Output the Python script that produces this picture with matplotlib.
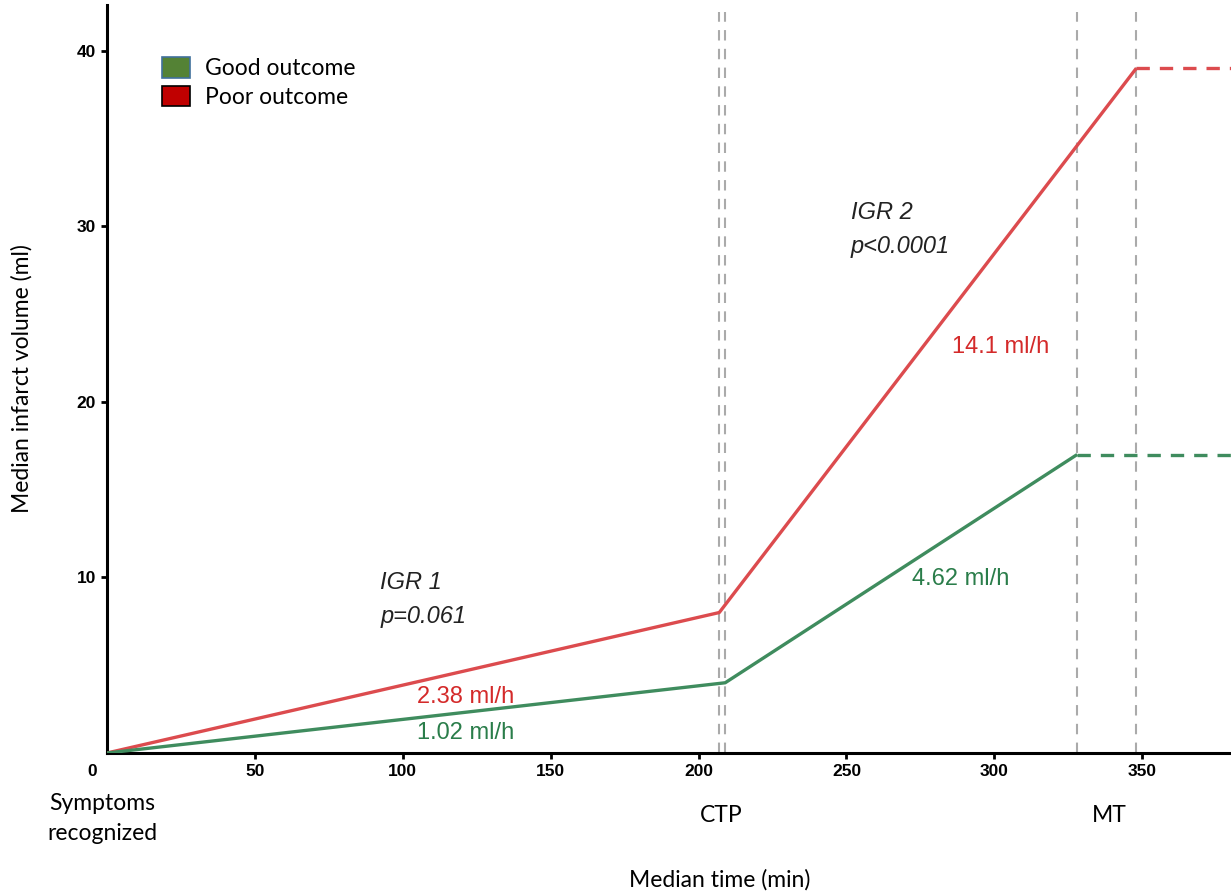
import matplotlib
matplotlib.use("Agg")
import matplotlib.pyplot as plt
from matplotlib.patches import Patch

# data
good_t = [0, 209, 328]
good_v = [0, 4, 17]
poor_t = [0, 207, 348]
poor_v = [0, 8, 39]
x_end = 380
ctp_times = [207, 209]
mt_times = [328, 348]
rates_poor = ["2.38 ml/h", "14.1 ml/h"]
rates_good = ["1.02 ml/h", "4.62 ml/h"]
xticks = [50, 100, 150, 200, 250, 300, 350]
yticks = [10, 20, 30, 40]

red = "#dc4b4e"
green = "#3f8c5e"
cal = "Lato"
ar = "Liberation Sans"

fig = plt.figure(figsize=(12.31, 8.96), dpi=100)
ax = fig.add_axes([0.0869, 0.1596, 0.9131, 0.8348])

for t in ctp_times + mt_times:
    ax.axvline(t, ymax=0.99, color="#aaaaaa", lw=1.5, ls=(0, (5, 4)), zorder=1)

ax.plot(poor_t, poor_v, color=red, lw=2.4, zorder=3, solid_capstyle="butt")
ax.plot(good_t, good_v, color=green, lw=2.4, zorder=3, solid_capstyle="butt")
ax.plot([poor_t[-1], x_end], [poor_v[-1], poor_v[-1]], color=red, lw=2.4, ls=(0, (4, 3)), zorder=3)
ax.plot([good_t[-1], x_end], [good_v[-1], good_v[-1]], color=green, lw=2.4, ls=(0, (4, 3)), zorder=3)

ax.set_xlim(0, x_end)
ax.set_ylim(0, 42.6)
ax.set_xticks(xticks)
ax.set_yticks(yticks)
ax.tick_params(labelsize=12, width=2, length=4, pad=4)
for lab in ax.get_xticklabels() + ax.get_yticklabels():
    lab.set_fontweight("bold")
    lab.set_fontfamily(ar)
    lab.set_fontsize(12.5)
for s in ["top", "right"]:
    ax.spines[s].set_visible(False)
for s in ["left", "bottom"]:
    ax.spines[s].set_linewidth(2.2)
ax.annotate("0", (-5, 0), xytext=(0, -8), textcoords="offset points", ha="center", va="top",
            fontsize=12.5, fontweight="bold", family=ar, annotation_clip=False)

# annotations
note = dict(style="italic", fontsize=17, family=ar, color="#222222", va="center")
ax.text(92.4, 9.69, "IGR 1", **note)
ax.text(92.4, 7.75, "p=0.061", **note)
ax.text(251.4, 30.77, "IGR 2", **note)
ax.text(251.4, 28.83, "p<0.0001", **note)
ax.text(121.1, 3.19, rates_poor[0], ha="center", va="center", fontsize=17, family=ar, color="#d42a2a")
ax.text(121.1, 1.14, rates_good[0], ha="center", va="center", fontsize=17, family=ar, color="#2a7d4a")
ax.text(302.1, 23.13, rates_poor[1], ha="center", va="center", fontsize=17, family=ar, color="#d42a2a")
ax.text(288.6, 9.91, rates_good[1], ha="center", va="center", fontsize=17, family=ar, color="#2a7d4a")

# stage labels under the axis
ax.text(-1.7, -2.3, "Symptoms\nrecognized", ha="center", va="top", fontsize=16.5, family=cal, linespacing=1.5)
ax.text(207.5, -2.95, "CTP", ha="center", va="top", fontsize=16.5, family=cal)
ax.text(339, -2.95, "MT", ha="center", va="top", fontsize=16.5, family=cal)

ax.set_xlabel("Median time (min)", fontsize=16.5, family=cal)
ax.set_ylabel("Median infarct volume (ml)", fontsize=16.5, family=cal)
ax.xaxis.set_label_coords(0.545, -0.155)
ax.yaxis.set_label_coords(-0.066, 0.5)

handles = [Patch(facecolor="#548235", edgecolor="#41719c", lw=1.2, label="Good outcome"),
           Patch(facecolor="#c00000", edgecolor="black", lw=1.2, label="Poor outcome")]
ax.legend(handles=handles, loc="upper left", bbox_to_anchor=(0.033, 0.955), frameon=False,
          prop={"family": cal, "size": 16.5}, handlelength=1.2, handleheight=1.0,
          labelspacing=0.3, handletextpad=0.65, borderpad=0.3)

fig.savefig("out.png", dpi=100)
